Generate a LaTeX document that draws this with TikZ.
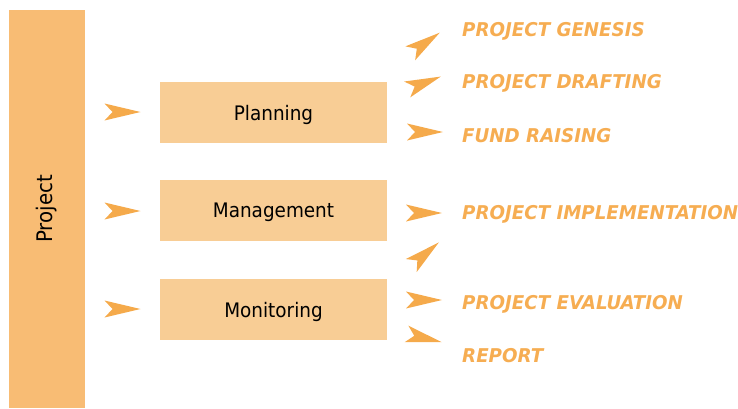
\documentclass[tikz,border=0pt]{standalone}
\usepackage{fontspec}
\setmainfont{DejaVu Sans}
\newfontfamily\labfont[FakeStretch=0.92]{DejaVu Sans}
\newfontfamily\orfont[FakeStretch=0.96]{DejaVu Sans}
\definecolor{barc}{HTML}{F8BC74}
\definecolor{boxc}{HTML}{F8CD95}
\definecolor{dartc}{HTML}{F5AA4B}
\definecolor{txtc}{HTML}{F6AD52}
\tikzset{
  bar/.style={fill=barc, draw=none, inner sep=0pt, font=\labfont\fontsize{21.5}{24}\selectfont},
  box/.style={fill=boxc, draw=none, minimum width=227pt, minimum height=61pt, inner sep=0pt, text depth=0pt, font=\labfont\fontsize{20}{23}\selectfont},
  item/.style={anchor=base west, inner sep=0pt, text=txtc, font=\orfont\fontsize{19}{22}\selectfont\bfseries\itshape},
  dart/.pic={\fill[dartc] (18,0) -- (-18,8.5) -- (-10,0) -- (-18,-8.5) -- cycle;}
}
\begin{document}
\begin{tikzpicture}[x=1pt,y=-1pt]
\useasboundingbox (0,0) rectangle (738,408);
\node[bar, rotate=90, minimum width=398pt, minimum height=76pt] (project) at (47,209) {Project};
\node[box] (plan) at (273.5,112.5) {Planning};
\node[box] (mgmt) at (273.5,210.5) {Management};
\node[box] (moni) at (273.5,309.5) {Monitoring};
\pic at (122.5,112) {dart};
\pic at (122.5,211) {dart};
\pic at (122.5,309) {dart};
\pic[rotate=35] at (425,43) {dart};
\pic[rotate=21] at (424,83) {dart};
\pic at (425,132) {dart};
\pic at (424,213) {dart};
\pic[rotate=40] at (425,254) {dart};
\pic at (424,300) {dart};
\pic[rotate=-13] at (424,338) {dart};
\node[item] (genesis) at (462,36) {PROJECT GENESIS};
\node[item] (drafting) at (462,88) {PROJECT DRAFTING};
\node[item] (fund) at (462,142) {FUND RAISING};
\node[item] (impl) at (462,219) {PROJECT IMPLEMENTATION};
\node[item] (eval) at (462,309) {PROJECT EVALUATION};
\node[item] (report) at (462,362) {REPORT};
\end{tikzpicture}
\end{document}
